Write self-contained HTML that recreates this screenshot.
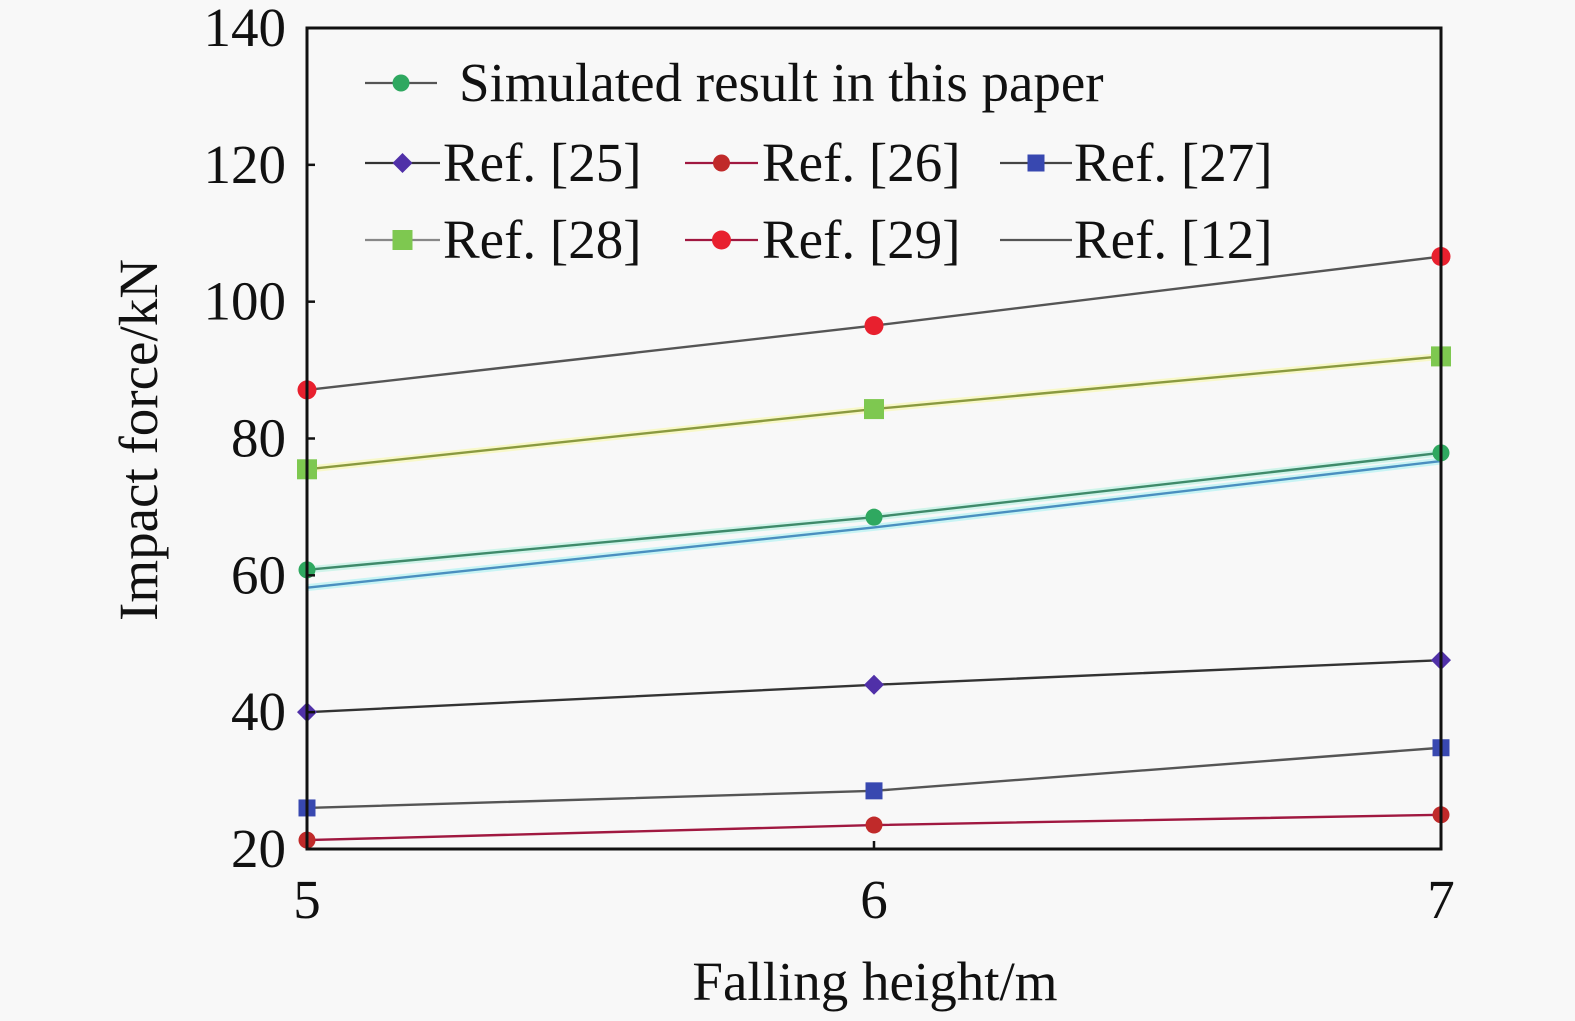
<!DOCTYPE html>
<html><head><meta charset="utf-8"><style>
html,body{margin:0;padding:0;background:#f8f8f8;}
svg{display:block;font-family:"Liberation Serif",serif;}
</style></head><body>
<svg id="chart" width="1575" height="1021" viewBox="0 0 1575 1021">
<rect x="0" y="0" width="1575" height="1021" fill="#f8f8f8"/>
<g id="plot"></g>
<g id="axes"></g>
<g id="legend"></g>
<text x="875" y="1000" font-size="55" text-anchor="middle" fill="#111">Falling height/m</text>
<text transform="translate(157,440) rotate(-90)" font-size="55" text-anchor="middle" fill="#111">Impact force/kN</text>
</svg>
<script>
const categories = [5, 6, 7];
const xTickLabels = ["5", "6", "7"];
const yTickLabels = [20, 40, 60, 80, 100, 120, 140];
const simulated = [60.8, 68.5, 77.9];
const ref25 = [40, 44, 47.6];
const ref26 = [21.3, 23.5, 25];
const ref27 = [26, 28.5, 34.8];
const ref28 = [75.5, 84.3, 92];
const ref29 = [87.1, 96.5, 106.6];
const ref12 = [58.2, 67, 76.7];

const NS = "http://www.w3.org/2000/svg";
const X0 = 307, X1 = 1441, Y0 = 849, Y1 = 28;
function xs(v){ return X0 + (v - 5) / 2 * (X1 - X0); }
function ys(v){ return Y0 - (v - 20) / 120 * (Y0 - Y1); }
function mk(tag, attrs, parent){ const e = document.createElementNS(NS, tag); for (const k in attrs) e.setAttribute(k, attrs[k]); parent.appendChild(e); return e; }

const plot = document.getElementById('plot');
const axes = document.getElementById('axes');
const legend = document.getElementById('legend');

function marker(shape, x, y, color, parent, name){
  let e;
  if (shape === 'circle') e = mk('circle', {cx:x, cy:y, r:8.5, fill:color}, parent);
  else if (shape === 'bigcircle') e = mk('circle', {cx:x, cy:y, r:9.5, fill:color}, parent);
  else if (shape === 'diamond') e = mk('polygon', {points:`${x},${y-10} ${x+10},${y} ${x},${y+10} ${x-10},${y}`, fill:color}, parent);
  else if (shape === 'square') e = mk('rect', {x:x-8.5, y:y-8.5, width:17, height:17, fill:color}, parent);
  else if (shape === 'bigsquare') e = mk('rect', {x:x-10, y:y-10, width:20, height:20, fill:color}, parent);
  else return;
  
  
}

const series = [
  {key:'ref12', vals:ref12, line:'#4a8fc0', halo:'#c8f4f4', shape:'none', color:'#4a8fc0', name:'ref-12'},
  {key:'simulated', vals:simulated, line:'#3f8a6a', halo:'#d0f4ea', shape:'circle', color:'#2fa860', name:'simulated'},
  {key:'ref28', vals:ref28, line:'#8a9a40', halo:'#f8f8c8', shape:'bigsquare', color:'#7ec850', name:'ref-28'},
  {key:'ref29', vals:ref29, line:'#555', halo:'none', shape:'bigcircle', color:'#e8202e', name:'ref-29'},
  {key:'ref25', vals:ref25, line:'#333', halo:'none', shape:'diamond', color:'#5030a8', name:'ref-25'},
  {key:'ref27', vals:ref27, line:'#555', halo:'none', shape:'square', color:'#3848b0', name:'ref-27'},
  {key:'ref26', vals:ref26, line:'#a01840', halo:'none', shape:'circle', color:'#c02a2a', name:'ref-26'}
];
series.forEach(s => {
  const g = mk('g', {}, plot);
  
  
  const pts = s.vals.map((v,i) => xs(categories[i]) + ',' + ys(v)).join(' ');
  if (s.halo !== 'none') mk('polyline', {points:pts, fill:'none', stroke:s.halo, 'stroke-width':7}, g);
  const pl = mk('polyline', {points:pts, fill:'none', stroke:s.line, 'stroke-width':2.4}, g);
  
  
  s.vals.forEach((v,i) => marker(s.shape, xs(categories[i]), ys(v), s.color, g, s.name + '-point'));
});

const frame = mk('rect', {x:X0, y:Y1, width:X1-X0, height:Y0-Y1, fill:'none', stroke:'#111', 'stroke-width':3}, axes);


yTickLabels.forEach(v => {
  const y = ys(v);
  mk('line', {x1:X0, x2:X0+8, y1:y, y2:y, stroke:'#111', 'stroke-width':2.5}, axes);
  const t = mk('text', {x:286, y:y+18, 'font-size':55, 'text-anchor':'end', fill:'#111'}, axes);
  t.textContent = v;
  
  
});
categories.forEach((c,i) => {
  const x = xs(c);
  mk('line', {x1:x, x2:x, y1:Y0, y2:Y0-8, stroke:'#111', 'stroke-width':2.5}, axes);
  const t = mk('text', {x:x, y:918, 'font-size':55, 'text-anchor':'middle', fill:'#111'}, axes);
  t.textContent = xTickLabels[i];
  
  
});

const legItems = [
  {label:'Simulated result in this paper', x1:365, x2:437, tx:459, y:83, line:'#555', shape:'circle', color:'#2fa860'},
  {label:'Ref. [25]', x1:365, x2:440, tx:443, y:163, line:'#333', shape:'diamond', color:'#5030a8'},
  {label:'Ref. [26]', x1:685, x2:758, tx:762, y:163, line:'#a01840', shape:'circle', color:'#c02a2a'},
  {label:'Ref. [27]', x1:1000, x2:1072, tx:1074, y:163, line:'#444', shape:'square', color:'#3848b0'},
  {label:'Ref. [28]', x1:365, x2:440, tx:443, y:240, line:'#888', shape:'bigsquare', color:'#7ec850'},
  {label:'Ref. [29]', x1:685, x2:758, tx:762, y:240, line:'#a01840', shape:'bigcircle', color:'#e8202e'},
  {label:'Ref. [12]', x1:1000, x2:1072, tx:1074, y:240, line:'#555', shape:'none', color:'#555'}
];
legItems.forEach(it => {
  const g = mk('g', {}, legend);
  
  
  mk('line', {x1:it.x1, x2:it.x2, y1:it.y, y2:it.y, stroke:it.line, 'stroke-width':2.2}, g);
  marker(it.shape, (it.x1+it.x2)/2, it.y, it.color, g, 'legend-marker');
  const t = mk('text', {x:it.tx, y:it.y+18, 'font-size':55, fill:'#111'}, g);
  t.textContent = it.label;
  
  
});
</script>
</body></html>
